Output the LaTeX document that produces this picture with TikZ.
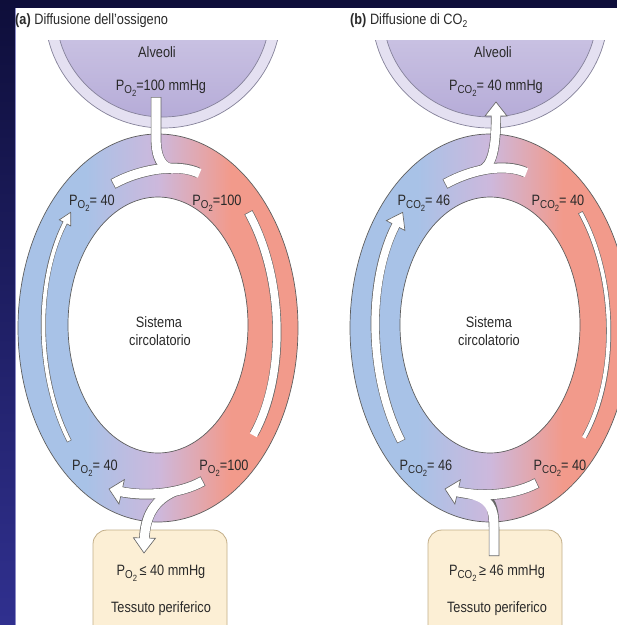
\documentclass[tikz,border=0pt]{standalone}
\usepackage{fontspec}
\setmainfont{Liberation Sans}[FakeStretch=0.85]
\usetikzlibrary{decorations.markings}
\definecolor{navyTop}{HTML}{0E0E3A}
\definecolor{navyBot}{HTML}{30308F}
\definecolor{panelline}{HTML}{8C8CC8}
\definecolor{ringblue}{HTML}{A8C2E7}
\definecolor{ringmid}{HTML}{CDB8DC}
\definecolor{ringred}{HTML}{F29A8B}
\definecolor{ringline}{HTML}{5E5E5E}
\definecolor{bowlband}{HTML}{E4E0F1}
\definecolor{bowlTop}{HTML}{E8E4F3}
\definecolor{bowlBot}{HTML}{B6ACD8}
\definecolor{bowlline}{HTML}{85829A}
\definecolor{tissue}{HTML}{FCEFD5}
\definecolor{tissueline}{HTML}{C2AE88}
\definecolor{agraycol}{HTML}{666666}
\definecolor{txtcol}{HTML}{2A2A2A}
\pgfdeclarehorizontalshading{ringshade}{100bp}{color(0bp)=(ringblue); color(37bp)=(ringblue); color(50bp)=(ringmid); color(63bp)=(ringred); color(100bp)=(ringred)}
\newcommand\Po{P\raisebox{-3.2pt}{\fontsize{11.5}{11}\selectfont O\raisebox{-3.2pt}{\fontsize{9}{9}\selectfont 2}}}
\newcommand\Pco{P\raisebox{-3.2pt}{\fontsize{11.5}{11}\selectfont CO\raisebox{-3.2pt}{\fontsize{9}{9}\selectfont 2}}}
% arrow pieces: #1 shaft width, #2 head length, #3 path
\newcommand\shaftgray[3]{\draw[agraycol, line width=#1pt, shorten >=#2pt-1pt] #3;}
\newcommand\shaftwhite[3]{\draw[white, line width=#1pt-1.3pt, shorten >=#2pt-2.5pt, shorten <=0.65pt] #3;}
% head: #1 length, #2 half width, #3 path
\newcommand\headof[3]{\path[decorate, decoration={markings, mark=at position 1 with {\filldraw[fill=white, draw=agraycol, line width=0.65pt] (-#1,-#2) -- (0,0) -- (-#1,#2) -- cycle;}}] #3;}
\tikzset{
  lbl/.style={inner sep=0pt, font=\fontsize{15}{17}\selectfont, text=txtcol, anchor=base},
  ringedge/.style={draw=ringline, line width=0.7pt},
}
\begin{document}
\begin{tikzpicture}[x=1pt,y=-1pt]
\useasboundingbox (0,0) rectangle (617,625);
\clip (0,0) rectangle (617,625);
% background
\shade[top color=navyTop, bottom color=navyBot] (0,0) rectangle (617,625);
\fill[white] (15,8) rectangle (617,625);
\draw[panelline, line width=0.8pt] (15.4,8) -- (15.4,625);
% alveoli bowls
\begin{scope}
  \clip (0,40) rectangle (617,200);
  \foreach \cx in {163,490} {
    \filldraw[fill=bowlband, draw=bowlline, line width=0.7pt] (\cx,12) ellipse[x radius=118, y radius=116];
    \shadedraw[top color=bowlTop, bottom color=bowlBot, draw=bowlline, line width=0.7pt] (\cx,12) ellipse[x radius=107, y radius=105];
  }
\end{scope}
% circulatory rings
\foreach \cx in {158,490} {
  \shade[shading=ringshade, even odd rule] (\cx,328) ellipse[x radius=140, y radius=194] (\cx,325) ellipse[x radius=90, y radius=128];
  \draw[ringedge] (\cx,328) ellipse[x radius=140, y radius=194] (\cx,325) ellipse[x radius=90, y radius=128];
}
% tissue boxes
\filldraw[fill=tissue, draw=tissueline, line width=0.8pt, rounded corners=14pt] (93,530) rectangle (227,660);
\filldraw[fill=tissue, draw=tissueline, line width=0.8pt, rounded corners=14pt] (428,530) rectangle (562,660);

% ---------- arrows, panel (a) ----------
\def\aMain{(113,184) .. controls (140,169) and (178,163) .. (209,178)}
\def\aIn{(156,97) -- (156,138) .. controls (156,158) and (162,168) .. (184,170)}
\def\aRight{(158,328) ++(-40:118 and 180) arc[start angle=-40, end angle=41, x radius=118, y radius=180]}
\def\aLeft{(158,328) ++(141:114 and 180) arc[start angle=141, end angle=220, x radius=114, y radius=180]}
\def\aBot{(203,481) .. controls (180,494) and (145,497) .. (109,489)}
\def\aOut{(175,491) .. controls (155,500) and (145,515) .. (144,553)}
\shaftgray{10.5}{13}{\aMain}
\shaftgray{10.5}{13}{\aIn}
\shaftgray{9}{15}{\aRight}
\shaftgray{5}{12}{\aLeft}
\shaftgray{10.5}{13}{\aBot}
\shaftgray{10.5}{15}{\aOut}
\headof{13}{12.5}{\aMain}
\headof{15}{10.5}{\aRight}
\headof{12}{6.5}{\aLeft}
\headof{13}{12.5}{\aBot}
\headof{15}{11}{\aOut}
\shaftwhite{10.5}{13}{\aMain}
\shaftwhite{10.5}{13}{\aIn}
\shaftwhite{9}{15}{\aRight}
\shaftwhite{5}{12}{\aLeft}
\shaftwhite{10.5}{13}{\aBot}
\shaftwhite{10.5}{15}{\aOut}

% ---------- arrows, panel (b) ----------
\def\bMain{(445,184) .. controls (472,169) and (505,163) .. (536,177)}
\def\bOut{(480,171) .. controls (492,166) and (496,150) .. (496,102)}
\def\bLeft{(490,328) ++(141:114 and 180) arc[start angle=141, end angle=220, x radius=114, y radius=180]}
\def\bRight{(490,328) ++(-40:118 and 180) arc[start angle=-40, end angle=41, x radius=118, y radius=180]}
\def\bBot{(537,483) .. controls (512,496) and (480,497) .. (445,489)}
\def\bIn{(494,556) -- (494,527) .. controls (494,508) and (490,498) .. (470,494)}
\shaftgray{10.5}{13}{\bMain}
\shaftgray{10}{14}{\bOut}
\shaftgray{9}{15}{\bLeft}
\shaftgray{5}{12}{\bRight}
\shaftgray{10.5}{13}{\bBot}
\shaftgray{10.5}{13}{\bIn}
\headof{13}{12.5}{\bMain}
\headof{14}{11}{\bOut}
\headof{15}{10.5}{\bLeft}
\headof{12}{6.5}{\bRight}
\headof{13}{12.5}{\bBot}
\shaftwhite{10.5}{13}{\bMain}
\shaftwhite{10}{14}{\bOut}
\shaftwhite{9}{15}{\bLeft}
\shaftwhite{5}{12}{\bRight}
\shaftwhite{10.5}{13}{\bBot}
\shaftwhite{10.5}{0}{\bIn}

% ---------- texts ----------
\node[lbl, anchor=base west] (ta) at (15,24) {\textbf{(a)} Diffusione dell’ossigeno};
\node[lbl, anchor=base west] (tb) at (350,24) {\textbf{(b)} Diffusione di CO\raisebox{-3.2pt}{\fontsize{10}{10}\selectfont 2}};
\node[lbl] (alvA) at (157,57) {Alveoli};
\node[lbl] (alvB) at (493,57) {Alveoli};
\node[lbl] (palvA) at (161,90) {\Po=100 mmHg};
\node[lbl] (palvB) at (496,90) {\Pco= 40 mmHg};
\node[lbl] (a1) at (92,205) {\Po= 40};
\node[lbl] (a2) at (217,205) {\Po=100};
\node[lbl] (a3) at (95,470) {\Po= 40};
\node[lbl] (a4) at (224,470) {\Po=100};
\node[lbl] (b1) at (424,205) {\Pco= 46};
\node[lbl] (b2) at (558,205) {\Pco= 40};
\node[lbl] (b3) at (426,470) {\Pco= 46};
\node[lbl] (b4) at (560,470) {\Pco= 40};
\node[lbl] (sA1) at (159,327) {Sistema};
\node[lbl] (sA2) at (160,345) {circolatorio};
\node[lbl] (sB1) at (489,327) {Sistema};
\node[lbl] (sB2) at (489,345) {circolatorio};
\node[lbl] (tisA1) at (161,575) {\Po\,≤ 40 mmHg};
\node[lbl] (tisA2) at (161,612) {Tessuto periferico};
\node[lbl] (tisB1) at (497,575) {\Pco\,≥ 46 mmHg};
\node[lbl] (tisB2) at (497,612) {Tessuto periferico};
\end{tikzpicture}
\end{document}
